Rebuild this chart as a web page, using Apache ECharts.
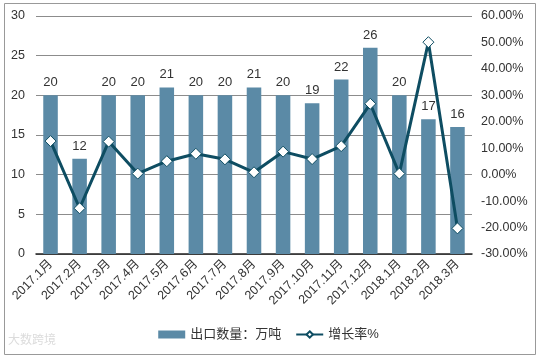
<!DOCTYPE html>
<html><head><meta charset="utf-8">
<script src="https://cdn.jsdelivr.net/npm/echarts@6/dist/echarts.min.js"></script>
<style>html,body{margin:0;padding:0;background:#fff}#c{width:537px;height:359px}</style>
</head><body><div id="c"></div>
<script>
var categories = ['2017.1月','2017.2月','2017.3月','2017.4月','2017.5月','2017.6月','2017.7月','2017.8月','2017.9月','2017.10月','2017.11月','2017.12月','2018.1月','2018.2月','2018.3月'];
var exportQty = [20,12,20,20,21,20,20,21,20,19,22,26,20,17,16];
var growthRate = [12.7,-12.7,12.5,0.4,5.1,7.9,5.8,0.9,8.7,5.9,10.8,26.8,0.4,50.1,-20.3];
var leftTicks = [0,5,10,15,20,25,30];
var rightTicks = [-30,-20,-10,0,10,20,30,40,50,60];

var font = '"Liberation Sans","Noto Sans CJK SC",sans-serif';
var chart = echarts.init(document.getElementById('c'));
chart.setOption({
  animation:false,
  textStyle:{fontFamily:font},
  grid:{left:36,right:65,top:16,bottom:105},
  graphic:[
    {type:'rect',shape:{x:4.5,y:3.5,width:531,height:351},style:{fill:'none',stroke:'#999',lineWidth:1},silent:true},
    {type:'text',left:8,top:335,style:{text:'大数跨境',fill:'#dcdcdc',font:'12px '+font}}
  ],
  legend:{
    bottom:13,left:'center',itemGap:14,
    textStyle:{fontSize:13,color:'#333',fontFamily:font},
    data:[
      {name:'出口数量：万吨',icon:'rect',itemStyle:{color:'#5b8aa6'}},
      {name:'增长率%'}
    ],
    itemWidth:27,itemHeight:8
  },
  xAxis:{
    type:'category',data:categories,
    axisLine:{lineStyle:{color:'#222',width:1.5}},
    axisTick:{show:false},
    axisLabel:{rotate:45,fontSize:12.5,color:'#333',margin:8,interval:0}
  },
  yAxis:[
    {type:'value',min:0,max:30,interval:5,
     axisLine:{show:false},axisTick:{show:false},
     splitLine:{lineStyle:{color:'#8c8c8c',width:1}},
     axisLabel:{fontSize:12.5,color:'#333',margin:11}},
    {type:'value',min:-30,max:60,interval:10,
     axisLine:{show:false},axisTick:{show:false},splitLine:{show:false},
     axisLabel:{fontSize:12.5,color:'#333',margin:9,formatter:function(v){return v.toFixed(2)+'%';}}}
  ],
  series:[
    {name:'出口数量：万吨',type:'bar',data:exportQty,barWidth:'50%',
     itemStyle:{color:'#5b8aa6'},
     label:{show:true,position:'top',distance:6,fontSize:13,color:'#333'}},
    {name:'增长率%',type:'line',yAxisIndex:1,data:growthRate,
     lineStyle:{color:'#0e4d62',width:3},
     symbol:'diamond',symbolSize:11,
     itemStyle:{color:'#fff',borderColor:'#0e4d62',borderWidth:1}}
  ]
});
</script></body></html>
